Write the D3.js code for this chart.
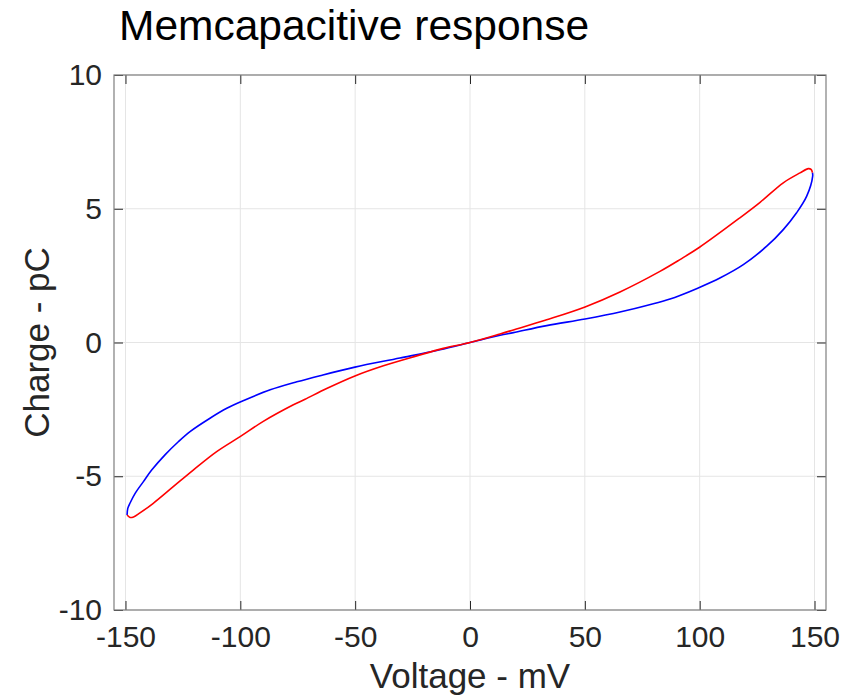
<!DOCTYPE html>
<html><head><meta charset="utf-8">
<script src="https://cdn.jsdelivr.net/npm/d3@7"></script>
<style>body{margin:0;background:#fff;} svg{display:block;}</style>
</head><body>
<script>
const xTicks = [-150,-100,-50,0,50,100,150];
const yTicks = [-10,-5,0,5,10];
const blueV = [-149.3,-149,-148,-145.8,-142.2,-138.6,-132.8,-127,-121.9,-113.2,-105.9,-98,-87,-75.4,-65.3,-50.1,-30.5,-13.1,0,13.1,18.9,33.4,50.1,65.3,79.8,87.1,91.4,99.4,108.8,119,129.2,136.4,142.2,146.6,149.2,149.1];
const blueQ = [-6.45,-6.2,-6.0,-5.64,-5.2,-4.77,-4.2,-3.71,-3.33,-2.83,-2.46,-2.15,-1.77,-1.47,-1.24,-0.92,-0.58,-0.27,0,0.27,0.37,0.63,0.88,1.14,1.45,1.63,1.76,2.04,2.41,2.91,3.6,4.22,4.85,5.47,6.22,6.35];
const redV = [149.1,148.5,147.3,143.7,136.4,126.3,117.5,100.1,91.4,82.7,65.3,50.1,33.4,18.9,13.1,0,-11.6,-23.2,-37.7,-50.1,-62.4,-71.8,-76.9,-90,-100.1,-110.3,-120.5,-129.2,-137.9,-143.7,-146.5,-148,-149.3];
const redQ = [6.35,6.47,6.5,6.34,5.97,5.24,4.66,3.57,3.1,2.66,1.89,1.33,0.85,0.47,0.32,0,-0.22,-0.5,-0.87,-1.25,-1.72,-2.12,-2.33,-2.95,-3.52,-4.08,-4.77,-5.39,-6.01,-6.37,-6.52,-6.54,-6.45];

const W=856,H=696;
const L=114,R=826,T=75,B=610;
const svg=d3.select("body").append("svg").attr("width",W).attr("height",H);
const x=d3.scaleLinear().domain([-155,155]).range([L,R]);
const y=d3.scaleLinear().domain([-10,10]).range([B,T]);
const font="'Liberation Sans', Arial, Helvetica, sans-serif";
const txt="#262626", axc="#7f7f7f";
const fmt=d=>String(d);

// grid
svg.append("g").selectAll("line").data(xTicks).join("line")
  .attr("x1",d=>x(d)).attr("x2",d=>x(d)).attr("y1",T).attr("y2",B)
  .attr("stroke","#e5e5e5").attr("stroke-width",1);
svg.append("g").selectAll("line").data(yTicks).join("line")
  .attr("y1",d=>y(d)).attr("y2",d=>y(d)).attr("x1",L).attr("x2",R)
  .attr("stroke","#e5e5e5").attr("stroke-width",1);

// curves
const line=d3.line().x(d=>x(d[0])).y(d=>y(d[1])).curve(d3.curveCatmullRom);
const blue=blueV.map((v,i)=>[v,blueQ[i]]);
const red=redV.map((v,i)=>[v,redQ[i]]);
svg.append("path").attr("d",line(blue)).attr("fill","none").attr("stroke","#0000ff").attr("stroke-width",1.6);
svg.append("path").attr("d",line(red)).attr("fill","none").attr("stroke","#ff0000").attr("stroke-width",1.6);

// axes
const tl=9;
const gx=svg.append("g").attr("transform",`translate(0,${B})`)
  .call(d3.axisBottom(x).tickValues(xTicks).tickFormat(fmt).tickSizeInner(-tl).tickSizeOuter(0).tickPadding(16));
const gxt=svg.append("g").attr("transform",`translate(0,${T})`)
  .call(d3.axisTop(x).tickValues(xTicks).tickSizeInner(-tl).tickSizeOuter(0).tickFormat(""));
const gy=svg.append("g").attr("transform",`translate(${L},0)`)
  .call(d3.axisLeft(y).tickValues(yTicks).tickFormat(fmt).tickSizeInner(-tl).tickSizeOuter(0).tickPadding(12));
const gyr=svg.append("g").attr("transform",`translate(${R},0)`)
  .call(d3.axisRight(y).tickValues(yTicks).tickSizeInner(-tl).tickSizeOuter(0).tickFormat(""));
[gx,gxt,gy,gyr].forEach(g=>{
  g.select(".domain").remove();
  g.selectAll(".tick line").attr("stroke","#262626").attr("stroke-width",1);
  g.selectAll("text").attr("fill",txt).attr("font-family",font).attr("font-size",30);
});
gx.selectAll("text").attr("dy","0.71em");
svg.append("rect").attr("x",L).attr("y",T).attr("width",R-L).attr("height",B-T)
  .attr("fill","none").attr("stroke",axc).attr("stroke-width",1.2);

// labels
svg.append("text").attr("x",119).attr("y",40).attr("font-family",font).attr("font-size",42.5)
  .attr("fill","#000").text("Memcapacitive response");
svg.append("text").attr("x",(L+R)/2).attr("y",688).attr("text-anchor","middle")
  .attr("font-family",font).attr("font-size",35).attr("fill",txt).text("Voltage - mV");
svg.append("text").attr("transform",`translate(49,${(T+B)/2}) rotate(-90)`).attr("text-anchor","middle")
  .attr("font-family",font).attr("font-size",35).attr("fill",txt).text("Charge - pC");
</script>
</body></html>
